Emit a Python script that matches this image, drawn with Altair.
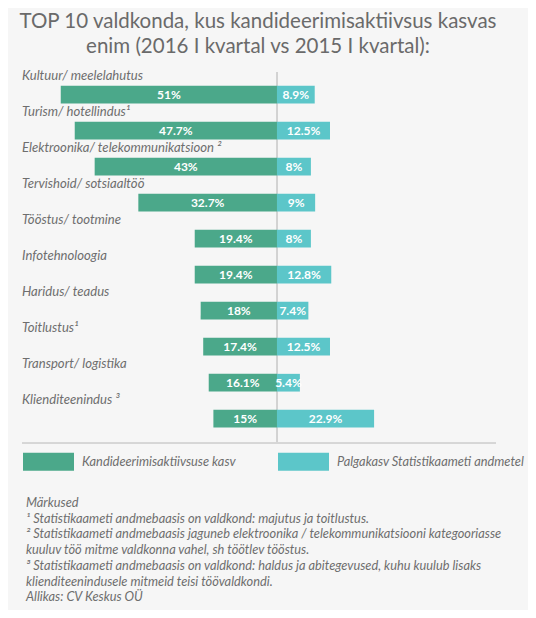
import altair as alt
import pandas as pd

# ---- data ----
categories = [
    "Kultuur/ meelelahutus",
    "Turism/ hotellindus¹",
    "Elektroonika/ telekommunikatsioon ²",
    "Tervishoid/ sotsiaaltöö",
    "Tööstus/ tootmine",
    "Infotehnoloogia",
    "Haridus/ teadus",
    "Toitlustus¹",
    "Transport/ logistika",
    "Klienditeenindus ³",
]
applications = [51, 47.7, 43, 32.7, 19.4, 19.4, 18, 17.4, 16.1, 15]
wages = [8.9, 12.5, 8, 9, 8, 12.8, 7.4, 12.5, 5.4, 22.9]
series_names = ["Kandideerimisaktiivsuse kasv", "Palgakasv Statistikaameti andmetel"]
series_colors = ["#4ba88a", "#5cc6c9"]

title_lines = ["TOP 10 valdkonda, kus kandideerimisaktiivsus kasvas",
               "enim (2016 I kvartal vs 2015 I kvartal):"]
notes_lines = [
    "Märkused",
    "¹ Statistikaameti andmebaasis on valdkond: majutus ja toitlustus.",
    "² Statistikaameti andmebaasis jaguneb elektroonika / telekommunikatsiooni kategooriasse",
    "kuuluv töö mitme valdkonna vahel, sh töötlev tööstus.",
    "³ Statistikaameti andmebaasis on valdkond: haldus ja abitegevused, kuhu kuulub lisaks",
    "klienditeenindusele mitmeid teisi töövaldkondi.",
    "Allikas: CV Keskus OÜ",
]

rows = []
for c, a, w in zip(categories, applications, wages):
    rows.append({"category": c, "series": series_names[0], "lo": -a, "hi": 0,
                 "mid": -a / 2, "label": f"{a:g}%"})
    rows.append({"category": c, "series": series_names[1], "lo": 0, "hi": w,
                 "mid": w / 2, "label": f"{w:g}%"})
df = pd.DataFrame(rows)
cat_df = pd.DataFrame({"category": categories, "zero": [0] * len(categories)})

W, H = 520, 602
FONT = "Lato"
GRAY = "#6e6e6e"

xscale = alt.Scale(domain=[-63.44, 59.2], nice=False, zero=False)
yscale = alt.Scale(domain=categories, range=[68.7, 428.7],
                   paddingInner=0.508, paddingOuter=0.254)

y_cat = alt.Y("category:N", scale=yscale, axis=None, sort=categories)

bars = alt.Chart(df).mark_bar().encode(
    x=alt.X("lo:Q", scale=xscale, axis=None),
    x2="hi:Q",
    y=y_cat,
    color=alt.Color(
        "series:N",
        scale=alt.Scale(domain=series_names, range=series_colors),
        legend=alt.Legend(
            title=None, orient="none", legendX=15, legendY=428,
            direction="horizontal", columns=2, columnPadding=42, padding=0,
            symbolType="M-1,-0.35L1,-0.35L1,0.35L-1,0.35Z", symbolSize=2601,
            symbolStrokeWidth=0, symbolOpacity=1,
            labelFont=FONT, labelFontStyle="italic", labelFontSize=12.8,
            labelColor=GRAY, labelOffset=8, labelLimit=400,
        ),
    ),
)

bar_labels = alt.Chart(df).mark_text(
    font=FONT, fontWeight="bold", fontSize=12, color="white", baseline="middle"
).encode(
    x=alt.X("mid:Q", scale=xscale, axis=None),
    y=y_cat,
    text="label:N",
)

cat_labels = alt.Chart(cat_df).mark_text(
    font=FONT, fontStyle="italic", fontSize=13.1, color=GRAY,
    align="left", baseline="middle", dy=-18.5,
).encode(
    x=alt.value(14),
    y=y_cat,
    text="category:N",
)

center_line = alt.Chart(cat_df).mark_rule(color="#d2d2d2", strokeWidth=1).encode(
    x=alt.X("zero:Q", scale=xscale, axis=None),
    y=alt.value(64),
    y2=alt.value(435),
)

sep_line = alt.Chart(cat_df).mark_rule(color="#d6d6d6", strokeWidth=1).encode(
    x=alt.value(14), x2=alt.value(488), y=alt.value(435)
)

title = alt.Chart(pd.DataFrame({"t": ["\n".join(title_lines)]})).mark_text(
    font=FONT, fontSize=20.5, color="#6a6a6a", align="center",
    baseline="alphabetic", lineBreak="\n", lineHeight=25,
).encode(x=alt.value(250), y=alt.value(19.5), text="t:N")

notes = alt.Chart(pd.DataFrame({"t": ["\n".join(notes_lines)]})).mark_text(
    font=FONT, fontStyle="italic", fontSize=12.8, color=GRAY, align="left",
    baseline="alphabetic", lineBreak="\n", lineHeight=15.7,
).encode(x=alt.value(18), y=alt.value(499), text="t:N")

chart = alt.layer(
    center_line, sep_line, bars, bar_labels, cat_labels, title, notes
).properties(
    width=W, height=H, background="#f6f6f6",
    autosize=alt.AutoSizeParams(type="none"), padding=0,
).configure_view(strokeWidth=0)

chart.save("out.html", embed_options={"renderer": "svg", "actions": False})
